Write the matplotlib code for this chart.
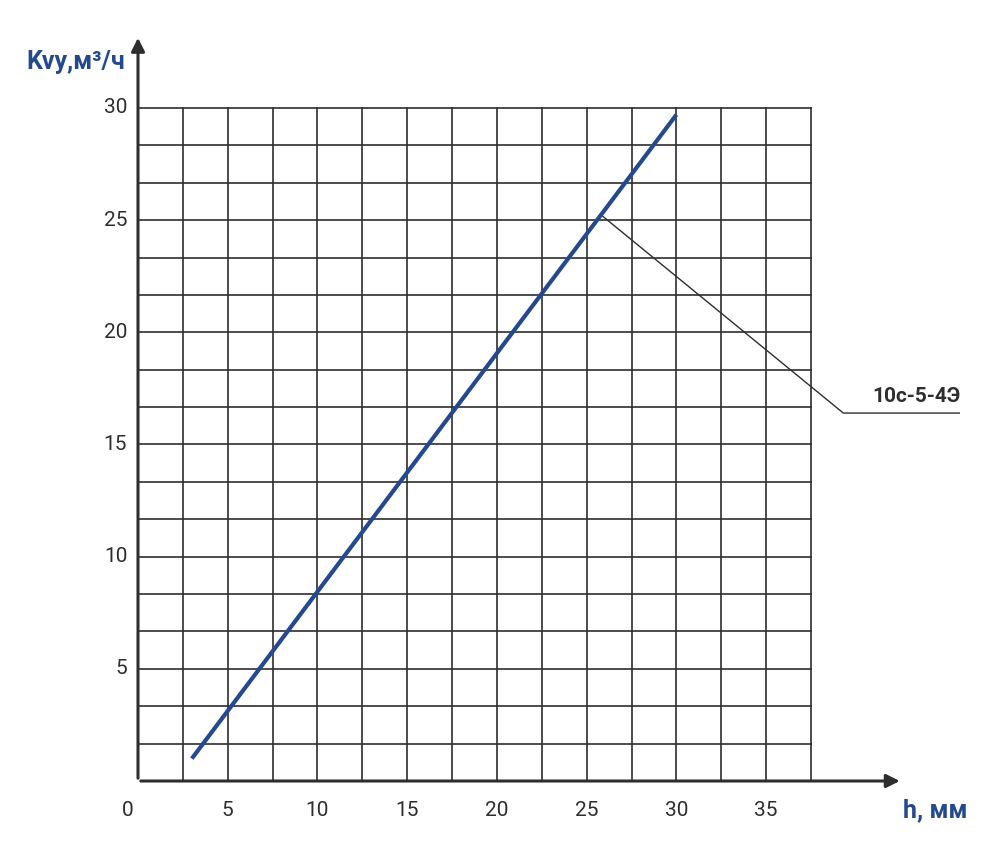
import matplotlib.pyplot as plt
import numpy as np

# curve data
h_mm = [3.0, 30.0]
kvy = [1.0, 29.7]
x_ticks = [5, 10, 15, 20, 25, 30, 35]
y_ticks = [5, 10, 15, 20, 25, 30]
curve_name = "10с-5-4Э"
label_point = (25.85, 25.2)
label_bend = (39.3, 16.4)
label_end = 45.8

blue = "#24498f"
dark = "#2e2e2e"

plt.rcParams['font.family'] = ['Roboto', 'DejaVu Sans']

fig = plt.figure(figsize=(10, 8.48), dpi=100)
ax = fig.add_axes([0.138, 0.079, 0.822, 0.8797])
ax.set_xlim(0, 45.8)
ax.set_ylim(0, 33.25)
ax.axis('off')

# grid
for gx in np.arange(2.5, 37.6, 2.5):
    ax.plot([gx, gx], [0, 30], color=dark, lw=1.2, zorder=1)
for gy in np.arange(5 / 3, 30.01, 5 / 3):
    ax.plot([0, 37.5], [gy, gy], color=dark, lw=1.2, zorder=1)

# axes with arrows
ax.annotate("", xy=(42.6, 0), xytext=(0, 0),
            arrowprops=dict(arrowstyle='-|>', color=dark, lw=2.2, mutation_scale=20),
            annotation_clip=False)
ax.annotate("", xy=(0, 33.25), xytext=(0, 0),
            arrowprops=dict(arrowstyle='-|>', color=dark, lw=2.2, mutation_scale=20),
            annotation_clip=False)

# curve
ax.plot(h_mm, kvy, color=blue, lw=3.0, solid_capstyle='butt', zorder=3)

# leader line and label
ax.plot([label_point[0], label_bend[0], label_end],
        [label_point[1], label_bend[1], label_bend[1]],
        color=dark, lw=1.0, zorder=2)
ax.text(label_end, label_bend[1] + 0.3, curve_name, ha='right', va='bottom',
        fontsize=15, fontweight='bold', color=dark)

# tick labels
for t in x_ticks:
    ax.text(t, -1.3, str(t), ha='center', va='center', fontsize=15, color=dark)
ax.text(-0.55, -1.3, "0", ha='center', va='center', fontsize=15, color=dark)
for t in y_ticks:
    ax.text(-0.6, t, str(t), ha='right', va='center', fontsize=15, color=dark)

# axis titles
ax.text(-0.7, 32.05, "Kvy,м³/ч", ha='right', va='center', fontsize=18,
        fontweight='bold', color=blue)
ax.text(42.6, -1.3, "h, мм", ha='left', va='center', fontsize=18,
        fontweight='bold', color=blue)

fig.savefig("out.png", dpi=100, facecolor='white')
